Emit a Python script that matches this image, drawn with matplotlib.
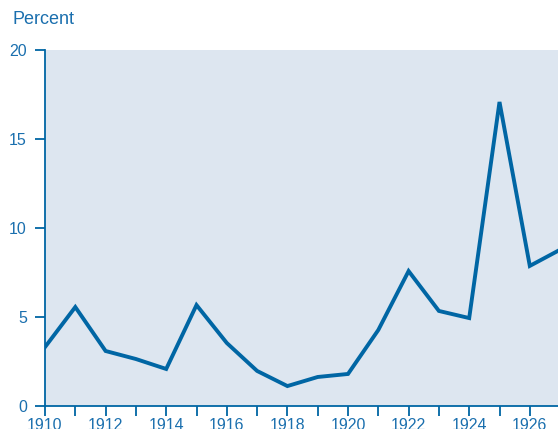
import matplotlib
matplotlib.use("Agg")
import matplotlib.pyplot as plt
from matplotlib.ticker import MultipleLocator

years = [1910, 1911, 1912, 1913, 1914, 1915, 1916, 1917, 1918, 1919,
         1920, 1921, 1922, 1923, 1924, 1925, 1926, 1927]
percent = [3.31, 5.56, 3.09, 2.64, 2.08, 5.67, 3.54, 1.97, 1.12, 1.63,
           1.80, 4.27, 7.58, 5.34, 4.94, 17.08, 7.87, 8.78]
xticks = [1910, 1912, 1914, 1916, 1918, 1920, 1922, 1924, 1926]
yticks = [0, 5, 10, 15, 20]

blue = "#0066a4"
text_blue = "#1a6fae"
bg = "#dde6f0"

plt.rcParams['font.family'] = ['Liberation Sans', 'DejaVu Sans']

fig = plt.figure(figsize=(5.58, 4.29), dpi=100)
ax = fig.add_axes([45/558, 1-406/429, 1-45/558, (406-50)/429])
ax.set_facecolor(bg)
ax.plot(years, percent, color=blue, lw=2.8, solid_joinstyle='miter', clip_on=True)
ax.set_xlim(1910, 1910 + 513/30.3)
ax.set_ylim(0, 20)
ax.set_xticks(xticks)
ax.set_xticklabels([str(t) for t in xticks])
ax.xaxis.set_minor_locator(MultipleLocator(1))
ax.set_yticks(yticks)
for s in ['top', 'right']:
    ax.spines[s].set_visible(False)
for s in ['left', 'bottom']:
    ax.spines[s].set_color(blue)
    ax.spines[s].set_linewidth(1.3)
ax.tick_params(axis='both', which='both', color=blue, width=1.3, labelcolor=text_blue, labelsize=11.5)
ax.tick_params(axis='x', which='both', length=7, pad=2)
ax.tick_params(axis='y', length=7, pad=6)
fig.text(12/558, 1-20/429, "Percent", color=text_blue, fontsize=13, va='center', ha='left')
fig.savefig("out.png", dpi=100)
